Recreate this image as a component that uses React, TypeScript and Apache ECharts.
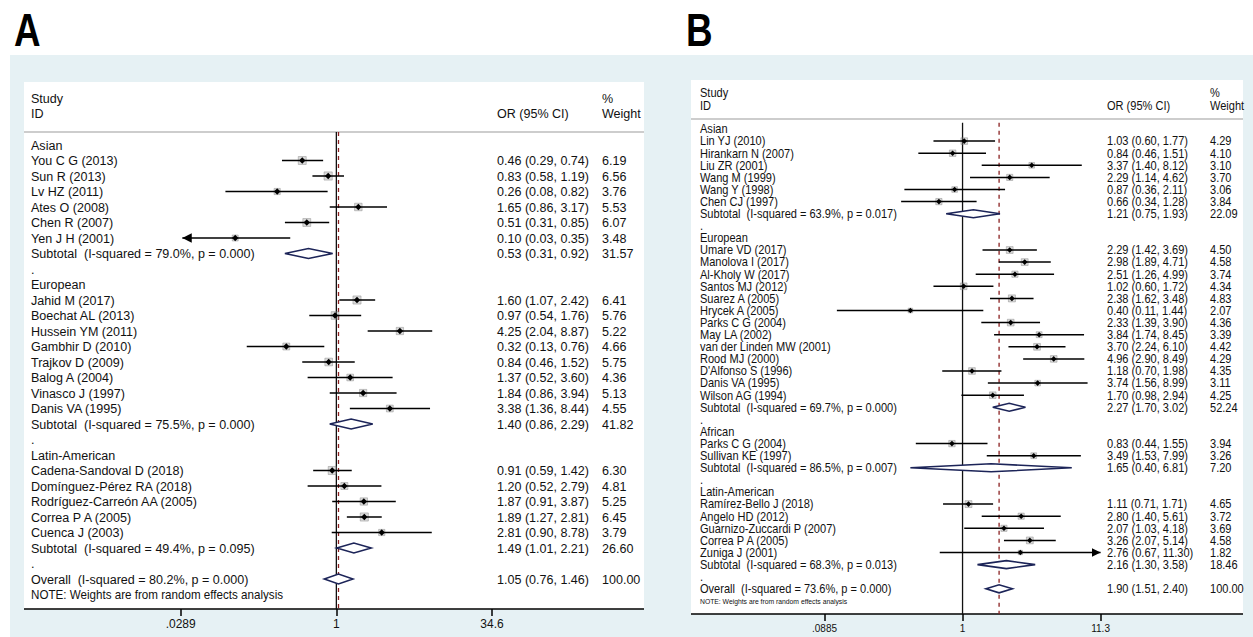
import React, { useEffect, useRef } from 'react';
import * as echarts from 'echarts';

// [label, OR, lower, upper, weight]
type Study = [string, number, number, number, number];
interface Group { name: string; studies: Study[]; sub: [string, number, number, number, number]; }

const asianA: Study[] = [
  ['You C G (2013)', 0.46, 0.29, 0.74, 6.19],
  ['Sun R (2013)', 0.83, 0.58, 1.19, 6.56],
  ['Lv HZ (2011)', 0.26, 0.08, 0.82, 3.76],
  ['Ates O (2008)', 1.65, 0.86, 3.17, 5.53],
  ['Chen R (2007)', 0.51, 0.31, 0.85, 6.07],
  ['Yen J H (2001)', 0.10, 0.03, 0.35, 3.48],
];
const europeanA: Study[] = [
  ['Jahid M (2017)', 1.60, 1.07, 2.42, 6.41],
  ['Boechat AL (2013)', 0.97, 0.54, 1.76, 5.76],
  ['Hussein YM (2011)', 4.25, 2.04, 8.87, 5.22],
  ['Gambhir D (2010)', 0.32, 0.13, 0.76, 4.66],
  ['Trajkov D (2009)', 0.84, 0.46, 1.52, 5.75],
  ['Balog A (2004)', 1.37, 0.52, 3.60, 4.36],
  ['Vinasco J (1997)', 1.84, 0.86, 3.94, 5.13],
  ['Danis VA (1995)', 3.38, 1.36, 8.44, 4.55],
];
const latinA: Study[] = [
  ['Cadena-Sandoval D (2018)', 0.91, 0.59, 1.42, 6.30],
  ['Domínguez-Pérez RA (2018)', 1.20, 0.52, 2.79, 4.81],
  ['Rodríguez-Carreón AA (2005)', 1.87, 0.91, 3.87, 5.25],
  ['Correa P A (2005)', 1.89, 1.27, 2.81, 6.45],
  ['Cuenca J (2003)', 2.81, 0.90, 8.78, 3.79],
];
const groupsA: Group[] = [
  { name: 'Asian', studies: asianA, sub: ['79.0%', 0.000, 0.53, 0.31, 0.92] },
  { name: 'European', studies: europeanA, sub: ['75.5%', 0.000, 1.40, 0.86, 2.29] },
  { name: 'Latin-American', studies: latinA, sub: ['49.4%', 0.095, 1.49, 1.01, 2.21] },
];
const subWeightsA = [31.57, 41.82, 26.60];
const overallA: [string, number, number, number, number] = ['80.2%', 0.000, 1.05, 0.76, 1.46];

const asianB: Study[] = [
  ['Lin YJ (2010)', 1.03, 0.60, 1.77, 4.29],
  ['Hirankarn N (2007)', 0.84, 0.46, 1.51, 4.10],
  ['Liu ZR (2001)', 3.37, 1.40, 8.12, 3.10],
  ['Wang M (1999)', 2.29, 1.14, 4.62, 3.70],
  ['Wang Y (1998)', 0.87, 0.36, 2.11, 3.06],
  ['Chen CJ (1997)', 0.66, 0.34, 1.28, 3.84],
];
const europeanB: Study[] = [
  ['Umare VD (2017)', 2.29, 1.42, 3.69, 4.50],
  ['Manolova I (2017)', 2.98, 1.89, 4.71, 4.58],
  ['Al-Kholy W (2017)', 2.51, 1.26, 4.99, 3.74],
  ['Santos MJ (2012)', 1.02, 0.60, 1.72, 4.34],
  ['Suarez A (2005)', 2.38, 1.62, 3.48, 4.83],
  ['Hrycek A (2005)', 0.40, 0.11, 1.44, 2.07],
  ['Parks C G (2004)', 2.33, 1.39, 3.90, 4.36],
  ['May LA (2002)', 3.84, 1.74, 8.45, 3.39],
  ['van der Linden MW (2001)', 3.70, 2.24, 6.10, 4.42],
  ['Rood MJ (2000)', 4.96, 2.90, 8.49, 4.29],
  ["D'Alfonso S (1996)", 1.18, 0.70, 1.98, 4.35],
  ['Danis VA (1995)', 3.74, 1.56, 8.99, 3.11],
  ['Wilson AG (1994)', 1.70, 0.98, 2.94, 4.25],
];
const africanB: Study[] = [
  ['Parks C G (2004)', 0.83, 0.44, 1.55, 3.94],
  ['Sullivan KE (1997)', 3.49, 1.53, 7.99, 3.26],
];
const latinB: Study[] = [
  ['Ramírez-Bello J (2018)', 1.11, 0.71, 1.71, 4.65],
  ['Angelo HD (2012)', 2.80, 1.40, 5.61, 3.72],
  ['Guarnizo-Zuccardi P (2007)', 2.07, 1.03, 4.18, 3.69],
  ['Correa P A (2005)', 3.26, 2.07, 5.14, 4.58],
  ['Zuniga J (2001)', 2.76, 0.67, 11.30, 1.82],
];
const groupsB: Group[] = [
  { name: 'Asian', studies: asianB, sub: ['63.9%', 0.017, 1.21, 0.75, 1.93] },
  { name: 'European', studies: europeanB, sub: ['69.7%', 0.000, 2.27, 1.70, 3.02] },
  { name: 'African', studies: africanB, sub: ['86.5%', 0.007, 1.65, 0.40, 6.81] },
  { name: 'Latin-American', studies: latinB, sub: ['68.3%', 0.013, 2.16, 1.30, 3.58] },
];
const subWeightsB = [22.09, 52.24, 7.20, 18.46];
const overallB: [string, number, number, number, number] = ['73.6%', 0.000, 1.90, 1.51, 2.40];

const ticksA = [0.0289, 1, 34.6];
const tickLabelsA = ['.0289', '1', '34.6'];
const ticksB = [0.0885, 1, 11.3];
const tickLabelsB = ['.0885', '1', '11.3'];

const FONT = '"Liberation Sans", Arial, sans-serif';

interface Row { kind: 'head' | 'study' | 'sub' | 'dot' | 'overall' | 'note'; label: string; or?: number; lo?: number; hi?: number; w?: number; }

function buildRows(groups: Group[], subW: number[], overall: [string, number, number, number, number]): Row[] {
  const rows: Row[] = [];
  groups.forEach((g, gi) => {
    rows.push({ kind: 'head', label: g.name });
    g.studies.forEach(s => rows.push({ kind: 'study', label: s[0], or: s[1], lo: s[2], hi: s[3], w: s[4] }));
    const [i2, p, or, lo, hi] = g.sub;
    rows.push({ kind: 'sub', label: `Subtotal  (I-squared = ${i2}, p = ${p.toFixed(3)})`, or, lo, hi, w: subW[gi] });
    rows.push({ kind: 'dot', label: '.' });
  });
  const [i2, p, or, lo, hi] = overall;
  rows.push({ kind: 'overall', label: `Overall  (I-squared = ${i2}, p = ${p.toFixed(3)})`, or, lo, hi, w: 100 });
  rows.push({ kind: 'note', label: 'NOTE: Weights are from random effects analysis' });
  return rows;
}

interface PanelCfg {
  rows: Row[]; gridIndex: number; xMin: number; xMax: number;
  labelX: number; orX: number; wX: number; font: number; noteFont: number; sx: number;
  dh: number; mk: number; boxK: number;
}

function panelSeries(c: PanelCfg, yMin: number, yMax: number, overallOr: number) {
  const data = c.rows.map((r, i) => [i]);
  const custom = {
    type: 'custom', xAxisIndex: c.gridIndex, yAxisIndex: c.gridIndex, clip: false,
    data,
    renderItem: (params: any, api: any) => {
      const i = api.value(0);
      const r = c.rows[i];
      const y = api.coord([0, i])[1];
      const kids: any[] = [];
      const txt = (x: number, s: string, size = c.font) => ({
        type: 'text', x, y, scaleX: c.sx, style: { text: s, fill: '#111', font: `${size}px ${FONT}`, textVerticalAlign: 'middle' },
      });
      kids.push(txt(c.labelX, r.label, r.kind === 'note' ? c.noteFont : c.font));
      if (r.or !== undefined) {
        const X = (v: number) => api.coord([Math.min(c.xMax, Math.max(c.xMin, Math.log(v))), i])[0];
        const xo = X(r.or), xl = X(r.lo!), xh = X(r.hi!);
        if (r.kind === 'study') {
          const s = Math.sqrt(r.w!) * c.boxK;
          kids.push({ type: 'rect', shape: { x: xo - s / 2, y: y - s / 2, width: s, height: s }, style: { fill: 'rgba(150,150,150,0.35)', stroke: 'rgba(120,120,120,0.5)', lineWidth: 0.8 } });
          kids.push({ type: 'line', shape: { x1: xl, y1: y, x2: xh, y2: y }, style: { stroke: '#000', lineWidth: 1.5 } });
          const a = c.mk + 1.5;
          if (Math.log(r.lo!) <= c.xMin + 0.05) kids.push({ type: 'polygon', shape: { points: [[xl, y], [xl + a * 2, y - a], [xl + a * 2, y + a]] }, style: { fill: '#000' } });
          if (Math.log(r.hi!) >= c.xMax - 0.05) kids.push({ type: 'polygon', shape: { points: [[xh, y], [xh - a * 2, y - a], [xh - a * 2, y + a]] }, style: { fill: '#000' } });
          const m = c.mk;
          kids.push({ type: 'polygon', shape: { points: [[xo - m, y], [xo, y - m], [xo + m, y], [xo, y + m]] }, style: { fill: '#000' } });
        } else {
          kids.push({ type: 'polygon', shape: { points: [[xl, y], [xo, y - c.dh], [xh, y], [xo, y + c.dh]] }, style: { fill: '#fff', stroke: '#1c2458', lineWidth: 1.6 } });
        }
        kids.push(txt(c.orX, `${r.or.toFixed(2)} (${r.lo!.toFixed(2)}, ${r.hi!.toFixed(2)})`));
        kids.push(txt(c.wX, r.w!.toFixed(2)));
      }
      return { type: 'group', children: kids };
    },
    z: 5,
  };
  const nullLine = {
    type: 'line', xAxisIndex: c.gridIndex, yAxisIndex: c.gridIndex, showSymbol: false, silent: true,
    data: [[0, yMin], [0, yMax]], lineStyle: { color: '#111', width: 1.3 }, z: 3,
  };
  const ovLine = {
    type: 'line', xAxisIndex: c.gridIndex, yAxisIndex: c.gridIndex, showSymbol: false, silent: true,
    data: [[Math.log(overallOr), yMin], [Math.log(overallOr), yMax]], lineStyle: { color: '#8a2020', width: 1.3, type: [4, 4] }, z: 4,
  };
  return [nullLine, ovLine, custom];
}

function xAxisCfg(gi: number, ticks: number[], labels: string[], size: number, sx: number) {
  const vals = ticks.map(t => Math.log(t));
  return {
    type: 'value', gridIndex: gi, min: vals[0], max: vals[2], position: 'bottom',
    axisLine: { show: false, onZero: false }, splitLine: { show: false },
    axisTick: { show: true, length: 7, lineStyle: { color: '#000', width: 1.5 }, customValues: vals },
    axisLabel: {
      customValues: vals, color: '#111', fontSize: size, fontFamily: FONT, margin: 9,
      formatter: (v: number) => labels[vals.reduce((b, x, k) => (Math.abs(x - v) < Math.abs(vals[b] - v) ? k : b), 0)],
    },
  };
}

const App: React.FC = () => {
  const ref = useRef<HTMLDivElement>(null);

  useEffect(() => {
    document.body.style.margin = '0';
    if (!ref.current) return;
    const chart = echarts.init(ref.current, undefined, { renderer: 'svg' });
    const rowsA = buildRows(groupsA, subWeightsA, overallA);
    const rowsB = buildRows(groupsB, subWeightsB, overallB);
    // row geometry: A rows at 145 + 15.5*i, B rows at 129 + 12.1*i
    const aTop = 132, aBot = 609, bTop = 119, bBot = 614;
    const aMin = (aTop - 145) / 15.5, aMax = (aBot - 145) / 15.5;
    const bMin = (bTop - 129) / 12.1, bMax = (bBot - 129) / 12.1;
    const cfgA: PanelCfg = { rows: rowsA, gridIndex: 0, xMin: Math.log(0.0289), xMax: Math.log(34.6), labelX: 31, orX: 497, wX: 602, font: 13.5, noteFont: 12.5, sx: 0.93, dh: 5, mk: 3.2, boxK: 3.2 };
    const cfgB: PanelCfg = { rows: rowsB, gridIndex: 1, xMin: Math.log(0.0885), xMax: Math.log(11.3), labelX: 700, orX: 1107, wX: 1210, font: 13, noteFont: 8, sx: 0.85, dh: 4, mk: 2.8, boxK: 3.2 };
    const hdr = (x: number, y: number, s: string, size: number, sx: number) => ({
      type: 'text', x, y, scaleX: sx, style: { text: s, fill: '#111', font: `${size}px ${FONT}`, textVerticalAlign: 'middle' },
    });
    const letter = (x: number, s: string) => ({
      type: 'text', x, y: 30, scaleX: 0.8, style: { text: s, fill: '#000', font: `bold 46px ${FONT}`, textVerticalAlign: 'middle' },
    });
    chart.setOption({
      animation: false,
      graphic: [
        { type: 'rect', z: -10, shape: { x: 10, y: 55, width: 1243, height: 582 }, style: { fill: '#e6f1f4' } },
        { type: 'rect', z: -9, shape: { x: 24, y: 82, width: 620, height: aBot - 82 }, style: { fill: '#fff' } },
        { type: 'rect', z: -9, shape: { x: 691, y: 80, width: 552, height: bBot - 80 }, style: { fill: '#fff' } },
        { type: 'line', shape: { x1: 24, y1: aTop, x2: 644, y2: aTop }, style: { stroke: '#bdbdbd', lineWidth: 1.5 } },
        { type: 'line', shape: { x1: 691, y1: bTop, x2: 1243, y2: bTop }, style: { stroke: '#bdbdbd', lineWidth: 1.5 } },
        { type: 'line', shape: { x1: 24, y1: aBot, x2: 644, y2: aBot }, style: { stroke: '#000', lineWidth: 1.5 } },
        { type: 'line', shape: { x1: 691, y1: bBot, x2: 1243, y2: bBot }, style: { stroke: '#000', lineWidth: 1.5 } },
        letter(14, 'A'), letter(686, 'B'),
        hdr(31, 98, 'Study', 13.5, 0.93), hdr(31, 113, 'ID', 13.5, 0.93), hdr(497, 113, 'OR (95% CI)', 13.5, 0.93),
        hdr(602, 98, '%', 13.5, 0.93), hdr(602, 113, 'Weight', 13.5, 0.93),
        hdr(700, 93, 'Study', 13, 0.85), hdr(700, 106, 'ID', 13, 0.85), hdr(1107, 106, 'OR (95% CI)', 13, 0.85),
        hdr(1210, 93, '%', 13, 0.85), hdr(1210, 106, 'Weight', 13, 0.85),
      ],
      grid: [
        { left: 180.7, width: 311.3, top: aTop, height: aBot - aTop },
        { left: 824.5, width: 276.1, top: bTop, height: bBot - bTop },
      ],
      xAxis: [xAxisCfg(0, ticksA, tickLabelsA, 12, 0.93), xAxisCfg(1, ticksB, tickLabelsB, 10, 0.85)],
      yAxis: [
        { type: 'value', gridIndex: 0, inverse: true, min: aMin, max: aMax, show: false },
        { type: 'value', gridIndex: 1, inverse: true, min: bMin, max: bMax, show: false },
      ],
      series: [
        ...panelSeries(cfgA, aMin, aMax, overallA[2]),
        ...panelSeries(cfgB, bMin + 0.3, bMax, overallB[2]),
      ],
    });
    return () => chart.dispose();
  }, []);

  return <div ref={ref} style={{ width: 1253, height: 637 }} />;
};

export default App;
